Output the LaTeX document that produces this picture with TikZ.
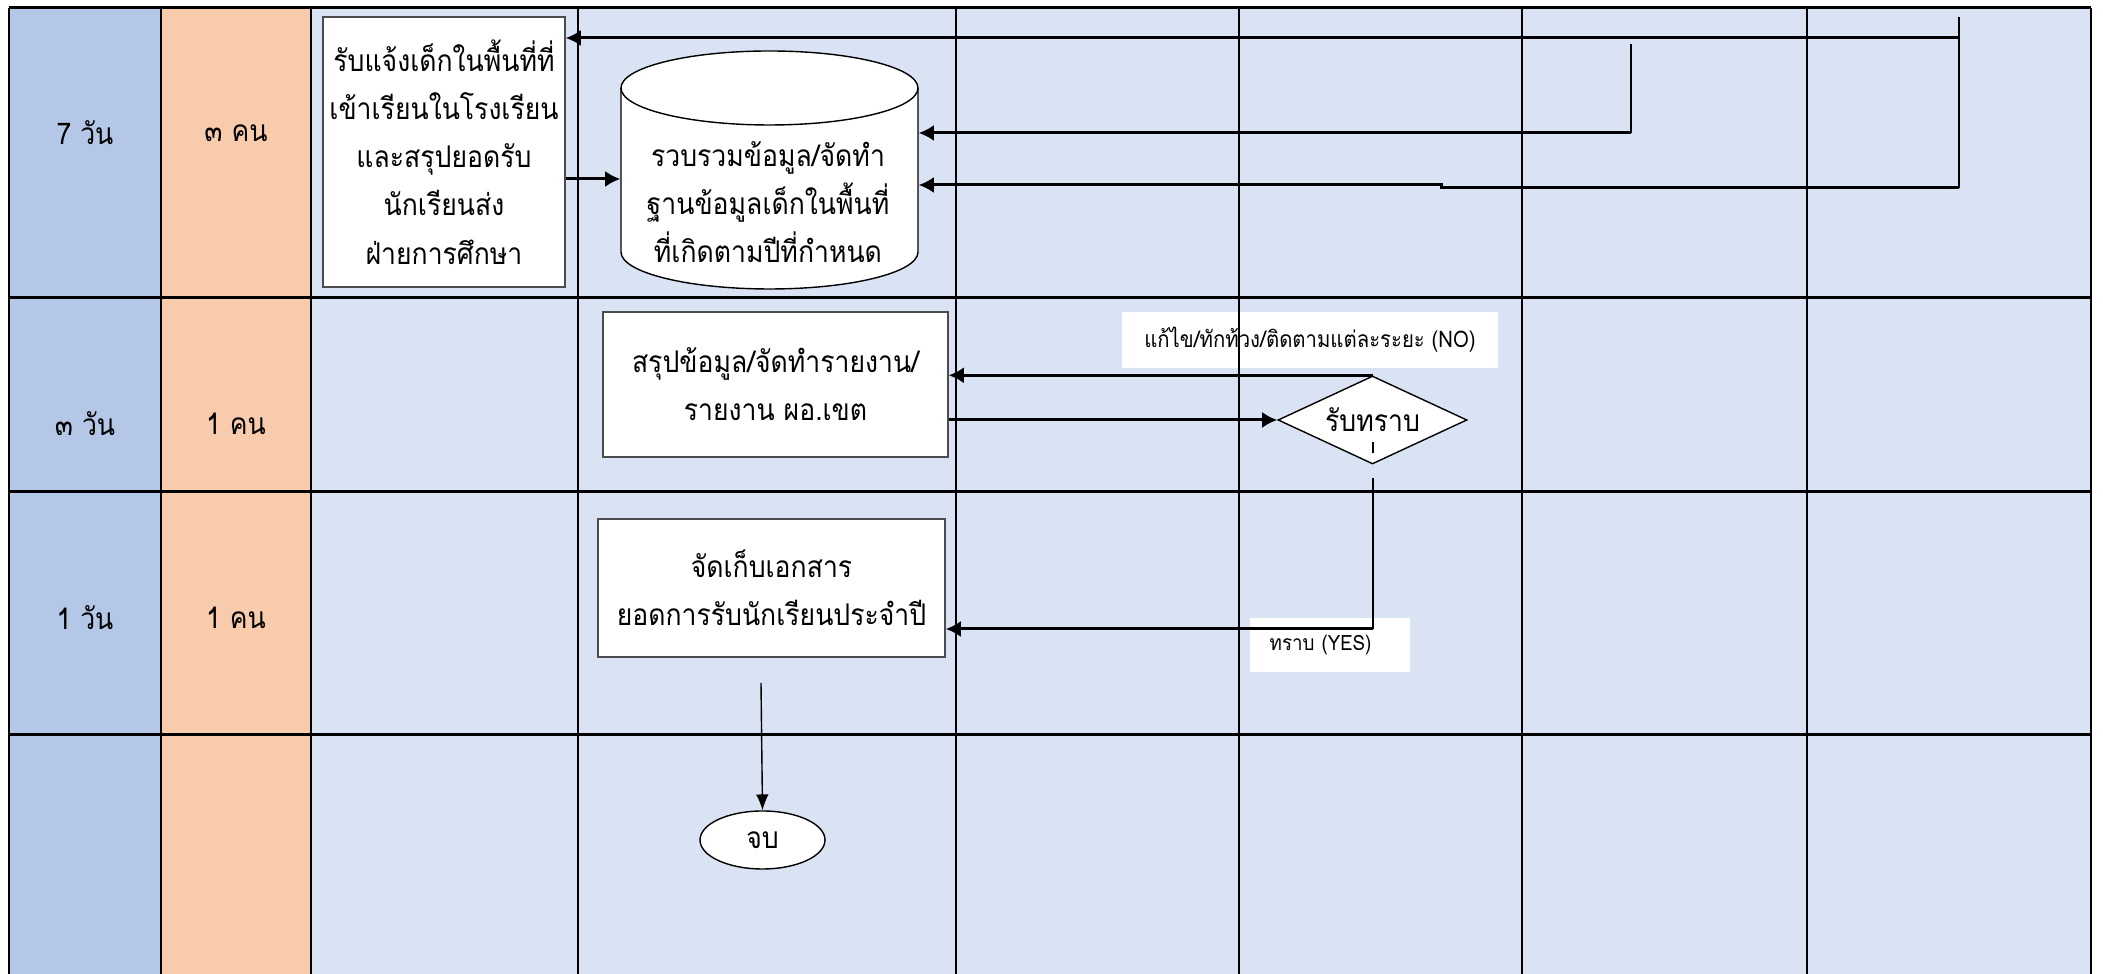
\documentclass[tikz,border=0pt]{standalone}
\usepackage{fontspec}
\setmainfont[Script=Thai,FakeStretch=0.89]{Loma}
\usetikzlibrary{shapes.geometric,arrows.meta}
\definecolor{daycol}{HTML}{B4C7E7}
\definecolor{mancol}{HTML}{F8CBAD}
\definecolor{lanecol}{HTML}{DAE3F3}
\tikzset{
  procbox/.style={draw=black!70, fill=white, line width=0.4pt, align=center, inner sep=0pt},
  decide/.style={diamond, draw, fill=white, line width=0.4pt, aspect=2.15, inner sep=0pt,
    minimum width=1.89cm, minimum height=0.88cm},
  endnode/.style={ellipse, draw, fill=white, line width=0.4pt, inner sep=0pt,
    minimum width=1.25cm, minimum height=0.58cm},
  lbl/.style={fill=white, inner sep=0pt, font=\fontsize{6}{7}\selectfont},
  flow/.style={->, line width=0.85pt},
  thinflow/.style={-{Latex[length=4.5pt,width=3.6pt]}, line width=0.4pt},
  >={Latex[length=4.3pt,width=4.6pt]}
}
\begin{document}
\begin{tikzpicture}[font=\fontsize{8.5}{13.7}\selectfont]
\useasboundingbox (0,0) rectangle (21.03,-9.74);
% lanes
\fill[daycol] (0.09,-0.08) rectangle (1.61,-9.74);
\fill[mancol] (1.61,-0.08) rectangle (3.11,-9.74);
\fill[lanecol] (3.11,-0.08) rectangle (20.91,-9.74);
% labels of the check
\node[lbl, font=\fontsize{6.5}{7.5}\selectfont, minimum width=3.76cm, minimum height=0.56cm] (nolbl) at (13.10,-3.40) {แก้ไข/ทักท้วง/ติดตามแต่ละระยะ (NO)};
\node[lbl, anchor=west, minimum width=1.60cm, minimum height=0.54cm, text width=1.2cm, align=left, inner xsep=0.2cm] (yeslbl) at (12.49,-6.45) {ทราบ (YES)};
% grid
\draw[line width=0.85pt] (0.09,-0.08)--(20.91,-0.08);
\draw[line width=0.85pt] (0.09,-2.98)--(20.91,-2.98);
\draw[line width=0.85pt] (0.09,-4.92)--(20.91,-4.92);
\draw[line width=0.85pt] (0.09,-7.35)--(20.91,-7.35);
\draw[line width=0.6pt] (0.09,-0.08)--(0.09,-9.74);
\draw[line width=0.6pt] (1.61,-0.08)--(1.61,-9.74);
\draw[line width=0.6pt] (3.11,-0.08)--(3.11,-9.74);
\draw[line width=0.6pt] (5.78,-0.08)--(5.78,-9.74);
\draw[line width=0.5pt] (9.56,-0.08)--(9.56,-9.74);
\draw[line width=0.4pt] (12.39,-0.08)--(12.39,-9.74);
\draw[line width=0.4pt] (15.22,-0.08)--(15.22,-9.74);
\draw[line width=0.4pt] (18.07,-0.08)--(18.07,-9.74);
\draw[line width=0.6pt] (20.91,-0.08)--(20.91,-9.74);
% days and staff
\node (d1) at (0.85,-1.33) {7 วัน};
\node (p1) at (2.36,-1.33) {๓ คน};
\node (d2) at (0.85,-4.24) {๓ วัน};
\node (p2) at (2.36,-4.24) {1 คน};
\node (d3) at (0.85,-6.18) {1 วัน};
\node (p3) at (2.36,-6.18) {1 คน};
% steps
\node[procbox, minimum width=2.42cm, minimum height=2.70cm] (recv) at (4.44,-1.52)
  {รับแจ้งเด็กในพื้นที่ที่\\เข้าเรียนในโรงเรียน\\และสรุปยอดรับ\\นักเรียนส่ง\\ฝ่ายการศึกษา};
\filldraw[fill=white, line width=0.4pt] (6.21,-0.88) -- (6.21,-2.52)
  arc[start angle=180, end angle=360, x radius=1.485, y radius=0.37] -- (9.18,-0.88)
  arc[start angle=0, end angle=180, x radius=1.485, y radius=0.37] -- cycle;
\draw[line width=0.4pt] (6.21,-0.88) arc[start angle=180, end angle=360, x radius=1.485, y radius=0.37];
\node[minimum width=2.97cm, minimum height=2.38cm, inner sep=0pt] (db) at (7.695,-1.70) {};
\node[align=center] (dbtxt) at (7.68,-2.02) {รวบรวมข้อมูล/จัดทำ\\ฐานข้อมูลเด็กในพื้นที่\\ที่เกิดตามปีที่กำหนด};
\node[procbox, minimum width=3.45cm, minimum height=1.45cm] (sum) at (7.755,-3.845)
  {สรุปข้อมูล/จัดทำรายงาน/\\รายงาน ผอ.เขต};
\node[decide] (chk) at (13.725,-4.20) {รับทราบ};
\node[procbox, minimum width=3.47cm, minimum height=1.38cm] (keep) at (7.715,-5.88)
  {จัดเก็บเอกสาร\\ยอดการรับนักเรียนประจำปี};
\node[endnode] (fin) at (7.625,-8.40) {จบ};
% connectors
\coordinate (tA) at (19.59,-0.38);
\coordinate (tB) at (19.59,-0.17);
\coordinate (tC) at (19.59,-1.88);
\coordinate (tD) at (16.31,-0.44);
\coordinate (kq) at (7.61,-6.83);
\draw[flow] (recv.east |- 0,-1.79) -- (db.west |- 0,-1.79);
\draw[flow] (tA) -- (tA -| recv.east);
\draw[line width=0.4pt] (tB) -- (tC);
\draw[line width=0.4pt] (tD) -- (16.31,-1.33);
\draw[flow] (16.31,-1.33) -- (db.east |- 0,-1.33);
\draw[flow] (tC) -- ++(-5.18,0) -- ++(0,0.03) -- (db.east |- 0,-1.85);
\draw[flow] (sum.east |- chk.west) -- (chk.west);
\draw[flow] (chk.north) -- (chk.north -| sum.east);
\draw[line width=0.4pt] (13.73,-4.42) -- (13.73,-4.53);
\draw[line width=0.4pt] (13.73,-4.78) -- (13.73,-6.29);
\draw[flow] (13.73,-6.29) -- (keep.east |- 0,-6.29);
\draw[thinflow] (kq) -- (fin.north);
\end{tikzpicture}
\end{document}
